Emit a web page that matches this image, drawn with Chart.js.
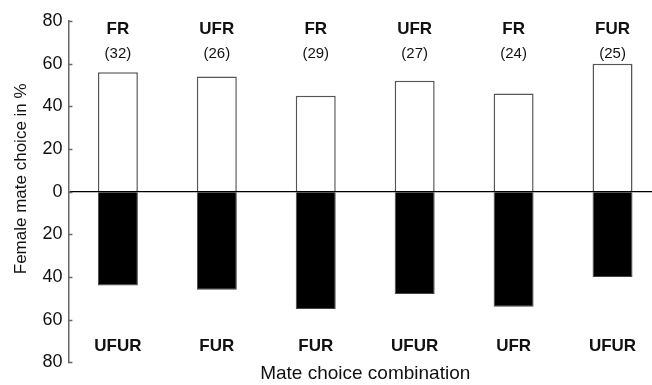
<!DOCTYPE html>
<html>
<head>
<meta charset="utf-8">
<script src="https://cdn.jsdelivr.net/npm/chart.js@4.4.0/dist/chart.umd.min.js"></script>
<style>
  html, body { margin: 0; padding: 0; background: #fff; overflow: hidden; }
  #wrap { width: 662px; height: 385px; position: relative; }
</style>
</head>
<body>
<div id="wrap"><canvas id="choiceChart"></canvas></div>
<script>
// Data
const topGroups = ['FR', 'UFR', 'FR', 'UFR', 'FR', 'FUR'];
const sampleSizes = [32, 26, 29, 27, 24, 25];
const bottomGroups = ['UFUR', 'FUR', 'FUR', 'UFUR', 'UFR', 'UFUR'];
const topChoice = [56, 54, 45, 52, 46, 60];
const bottomChoice = [44, 46, 55, 48, 54, 40];
const yTickValues = [-80, -60, -40, -20, 0, 20, 40, 60, 80];

const categories = topGroups.map((g, i) => g + ' / ' + bottomGroups[i]);
const FONT = '"Liberation Sans", Arial, sans-serif';
const Y_TITLE = 'Female mate choice in %';

// group names + sample sizes inside the plot, inward tick marks, y title
const groupLabels = {
    id: 'groupLabels',
    afterDatasetsDraw(chart) {
        const ctx = chart.ctx;
        const x = chart.scales.x;
        const y = chart.scales.y;
        ctx.save();
        ctx.fillStyle = '#111';
        ctx.textAlign = 'center';
        ctx.textBaseline = 'middle';
        categories.forEach((c, i) => {
            const px = x.getPixelForValue(i);
            ctx.font = 'bold 17px ' + FONT;
            ctx.fillText(topGroups[i], px, y.getPixelForValue(76));
            ctx.fillText(bottomGroups[i], px, y.getPixelForValue(-72.4));
            ctx.font = '15px ' + FONT;
            ctx.fillText('(' + sampleSizes[i] + ')', px, y.getPixelForValue(64.5));
        });
        // short tick marks pointing into the plot
        ctx.strokeStyle = '#666';
        ctx.lineWidth = 1.5;
        yTickValues.forEach(v => {
            const py = Math.round(y.getPixelForValue(v)) + 0.5;
            ctx.beginPath();
            ctx.moveTo(y.right, py);
            ctx.lineTo(y.right + 4, py);
            ctx.stroke();
        });
        // y title sits a little above the axis centre in the original
        ctx.translate(y.left + 11, y.getPixelForValue(6));
        ctx.rotate(-Math.PI / 2);
        ctx.font = '17px ' + FONT;
        ctx.fillText(Y_TITLE, 0, 0);
        ctx.restore();
    }
};

new Chart(document.getElementById('choiceChart'), {
    type: 'bar',
    data: {
        labels: categories,
        datasets: [{
            label: 'Upper group',
            data: topChoice,
            backgroundColor: '#fff',
            borderColor: '#555',
            borderWidth: 1.5,
            borderSkipped: 'bottom'
        }, {
            label: 'Lower group',
            data: bottomChoice.map(v => -v),
            backgroundColor: '#000',
            borderColor: '#444',
            borderWidth: 1,
            borderSkipped: 'bottom'
        }]
    },
    options: {
        responsive: true,
        maintainAspectRatio: false,
        animation: false,
        layout: {
            padding: { left: 10, top: 21, right: 0, bottom: 0 }
        },
        datasets: {
            bar: { barPercentage: 0.404, categoryPercentage: 1 }
        },
        plugins: {
            legend: { display: false },
            tooltip: { enabled: false }
        },
        scales: {
            x: {
                stacked: true,
                grid: { display: false, drawTicks: false },
                border: { display: false },
                ticks: { display: false },
                title: {
                    display: true,
                    text: 'Mate choice combination',
                    color: '#111',
                    font: { family: FONT, size: 19 },
                    padding: { top: 0, bottom: 0 }
                }
            },
            y: {
                stacked: true,
                min: -80,
                max: 80,
                afterBuildTicks: function(scale) {
                    scale.ticks = yTickValues.map(v => ({ value: v }));
                },
                grid: {
                    drawTicks: false,
                    color: function(c) {
                        return c.tick && c.tick.value === 0 ? '#000' : 'rgba(0,0,0,0)';
                    },
                    lineWidth: 1.2
                },
                border: { display: true, color: '#666', width: 1.5 },
                ticks: {
                    color: '#111',
                    padding: 6,
                    font: { family: FONT, size: 18 },
                    callback: function(value) {
                        return Math.abs(value);
                    }
                },
                // space kept for the title; the text itself is drawn by the plugin
                title: {
                    display: true,
                    text: Y_TITLE,
                    color: 'rgba(0,0,0,0)',
                    font: { family: FONT, size: 17 },
                    padding: { top: 0, bottom: 6 }
                }
            }
        }
    },
    plugins: [groupLabels]
});
</script>
</body>
</html>
